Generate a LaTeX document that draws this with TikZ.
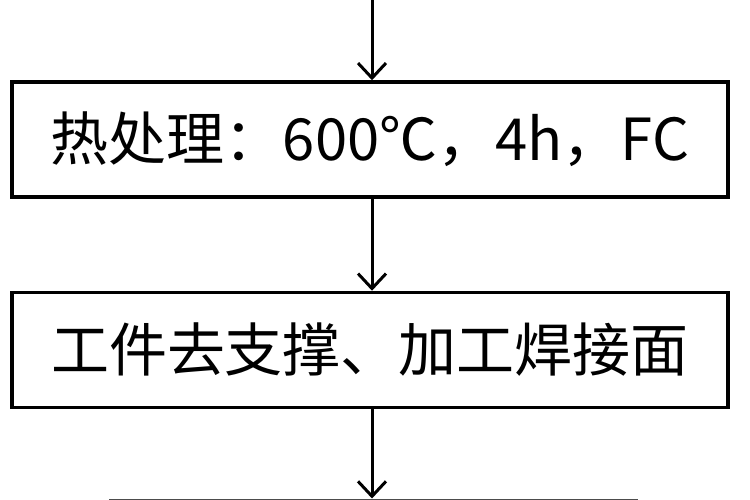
\documentclass[tikz,border=0pt]{standalone}
\usepackage{fontspec}
\newfontfamily\cjk{Noto Sans CJK SC}
\usetikzlibrary{arrows.meta}
\begin{document}
\begin{tikzpicture}[x=1pt,y=-1pt,
  stepbox/.style={draw=black,line width=3.5pt,minimum width=716pt,minimum height=115pt,inner sep=0pt,font=\cjk\fontsize{58}{66}\selectfont},
  flow/.style={draw=black,line width=3pt,-{Straight Barb[length=15pt,width=28pt,line width=3pt]}}]
\useasboundingbox (0,0) rectangle (750,500);
\fill[white] (0,0) rectangle (750,500);
\coordinate (top) at (372,0);
\node[stepbox] (a) at (370,139.5) {热处理：600℃，4h，FC};
\node[stepbox] (b) at (370,350) {工件去支撑、加工焊接面};
\node[draw=black!70,line width=3pt,minimum width=526pt,minimum height=115pt,inner sep=0pt,anchor=north] (c) at (373,498.5) {};
\draw[flow] (top) -- (top|-a.north);
\draw[flow] (a.south-|top) -- (top|-b.north);
\draw[flow] (b.south-|top) -- (top|-c.north);
\end{tikzpicture}
\end{document}
